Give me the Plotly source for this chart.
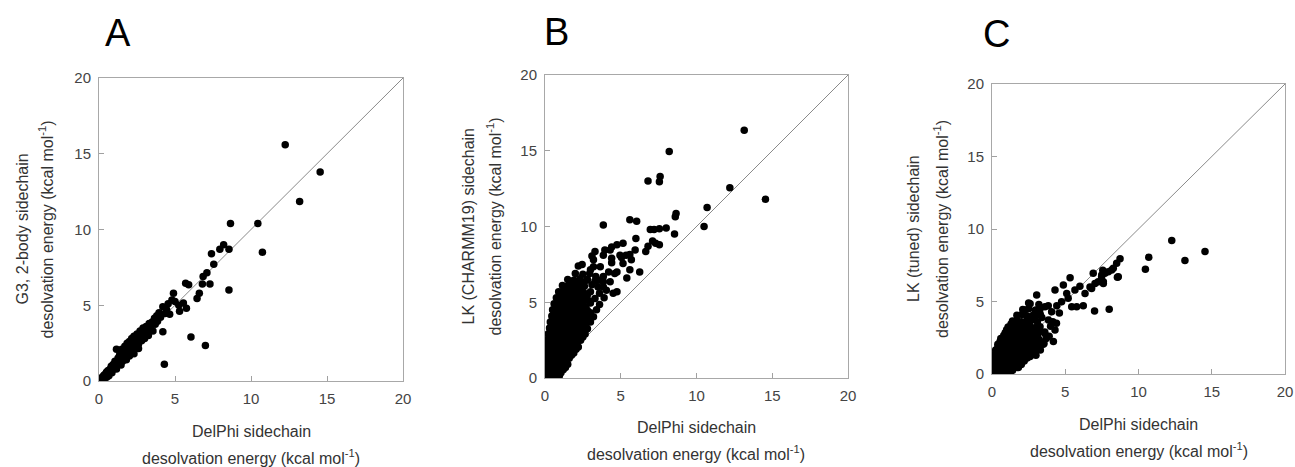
import plotly.graph_objects as go

# ---------------- data ----------------
tick_vals = [0, 5, 10, 15, 20]
tick_text = ["0", "5", "10", "15", "20"]
diag = [0, 20]

panel_letters = ["A", "B", "C"]
x_title_lines = ["DelPhi sidechain", "desolvation energy (kcal mol<sup>-1</sup>)"]
y_title_lines = [
    ["G3, 2-body sidechain", "desolvation energy (kcal mol<sup>-1</sup>)"],
    ["LK (CHARMM19) sidechain", "desolvation energy (kcal mol<sup>-1</sup>)"],
    ["LK (tuned) sidechain", "desolvation energy (kcal mol<sup>-1</sup>)"],
]

# Panel A: G3 2-body vs DelPhi
a_x = [0.05, 0.15, 0.25, 0.3, 0.4, 0.45, 0.55, 0.6, 0.7, 0.75,
       0.8, 0.9, 0.95, 1.0, 1.05, 1.1, 1.15, 1.2, 1.25, 1.3,
       1.35, 1.4, 1.5, 1.5, 1.55, 1.6, 1.7, 1.7, 1.75, 1.8,
       1.85, 1.9, 1.95, 2.0, 2.05, 2.1, 2.15, 2.2, 2.25, 2.3,
       2.3, 2.4, 2.45, 2.5, 2.55, 2.6, 2.7, 2.75, 2.8, 2.9,
       2.95, 3.0, 3.1, 3.15, 3.25, 3.3, 3.4, 3.5, 3.55, 3.65,
       3.7, 3.8, 3.85, 3.95, 4.05, 4.2, 4.2, 4.3, 4.35, 4.45,
       4.55, 4.65, 4.8, 4.9, 5.0, 5.25, 5.3, 5.55, 5.7, 5.75,
       5.9, 6.05, 6.45, 6.6, 6.85, 6.8, 7.0, 7.1, 7.3, 7.4,
       7.55, 7.95, 8.2, 8.55, 8.55, 8.65, 10.45, 10.75, 12.25, 13.2,
       14.55, 0.2, 0.5, 0.85, 1.15, 0.35, 0.65, 1.45, 1.8, 2.0,
       2.6]
a_y = [0.05, 0.1, 0.2, 0.35, 0.3, 0.5, 0.45, 0.7, 0.55, 0.8,
       0.95, 0.75, 1.1, 0.9, 1.3, 1.0, 2.1, 1.25, 1.5, 1.1,
       1.7, 1.35, 1.6, 2.1, 1.3, 1.85, 1.55, 2.3, 2.05, 1.75,
       2.5, 2.2, 1.9, 2.6, 2.35, 2.0, 2.8, 2.5, 2.2, 1.8,
       2.95, 2.65, 2.3, 3.1, 2.8, 2.45, 3.3, 3.0, 2.65, 3.5,
       3.15, 2.8, 3.6, 3.3, 3.0, 3.8, 3.5, 3.9, 3.3, 4.15,
       3.75, 4.3, 3.95, 4.5, 4.2, 4.9, 3.25, 1.1, 4.45, 4.7,
       5.1, 4.4, 5.35, 5.8, 5.25, 5.0, 4.6, 5.15, 6.45, 4.8,
       6.35, 2.9, 5.45, 5.8, 6.9, 6.4, 2.35, 7.15, 6.4, 8.4,
       7.7, 8.7, 9.0, 8.7, 6.0, 10.4, 10.4, 8.5, 15.6, 11.85,
       13.8, 0.05, 0.25, 0.55, 0.8, 0.15, 0.35, 1.05, 1.4, 1.65,
       2.15]
a_x_extra = [0.1, 0.35, 0.6, 0.85, 1.1, 1.35, 1.6, 1.85, 2.1, 2.35,
             2.6, 2.85, 3.1, 3.35, 3.6, 0.5, 0.9, 1.3, 1.7, 2.1,
             2.5, 2.9, 3.3]
a_y_extra = [0.2, 0.4, 0.6, 1.0, 1.2, 1.5, 1.7, 2.3, 2.3, 2.5,
             2.9, 3.1, 3.3, 3.6, 3.9, 0.6, 0.9, 1.5, 2.0, 2.5,
             2.7, 3.3, 3.4]

# Panel B: LK (CHARMM19) vs DelPhi
b_x = [0.05, 0.35, 0.65, 0.95,
       0.0, 0.3, 0.6, 0.9, 1.2,
       0.05, 0.35, 0.65, 0.95, 1.25, 1.5,
       0.05, 0.35, 0.65, 0.95, 1.25, 1.6,
       0.1, 0.4, 0.7, 1.0, 1.3, 1.6, 1.9,
       0.1, 0.4, 0.7, 1.0, 1.3, 1.6, 1.95, 2.2,
       0.15, 0.45, 0.75, 1.05, 1.35, 1.65, 1.95, 2.35,
       0.2, 0.5, 0.8, 1.1, 1.4, 1.7, 2.0, 2.3, 2.65,
       0.3, 0.6, 0.9, 1.2, 1.5, 1.8, 2.1, 2.4, 2.8,
       0.35, 0.65, 0.95, 1.25, 1.55, 1.85, 2.15, 2.5, 3.0,
       0.45, 0.75, 1.05, 1.35, 1.65, 1.95, 2.3, 2.7, 3.2,
       0.5, 0.8, 1.1, 1.4, 1.7, 2.0, 2.35, 2.8, 3.4,
       0.6, 0.9, 1.2, 1.5, 1.8, 2.1, 2.5, 3.0, 3.6,
       0.75, 1.05, 1.35, 1.65, 1.95, 2.3, 2.7, 3.3, 3.9,
       0.9, 1.2, 1.5, 1.8, 2.15, 2.55, 3.0, 3.6,
       1.15, 1.45, 1.8, 2.2, 2.6, 3.1, 3.5,
       1.5, 1.9, 2.3, 2.8, 3.3,
       2.0, 2.5,
       2.2, 2.45, 2.95, 3.0, 3.2, 3.1, 3.3, 3.65, 3.55, 3.85,
       3.85, 3.95, 4.05, 4.2, 4.3, 4.3, 4.4, 4.4, 4.4, 4.6,
       4.75, 4.5, 4.75, 4.75, 4.95, 5.05, 5.15, 5.15, 5.35, 5.4,
       5.6, 5.7, 5.6, 5.95, 6.0, 6.25, 6.65, 6.8, 7.1, 7.3,
       7.55, 6.95, 7.2, 7.55, 8.0, 8.55, 8.6, 8.65, 3.85, 5.6,
       6.05, 6.8, 7.55, 7.6, 8.2, 10.5, 10.7, 12.2, 13.15, 14.55,
       3.35, 3.85, 3.85, 2.75, 3.2]
b_y = [0.15, 0.2, 0.1, 0.15,
       0.5, 0.55, 0.45, 0.5, 0.55,
       0.9, 0.95, 0.85, 0.9, 0.95, 0.9,
       1.3, 1.25, 1.35, 1.3, 1.25, 1.3,
       1.7, 1.75, 1.65, 1.7, 1.75, 1.7, 1.65,
       2.1, 2.05, 2.15, 2.1, 2.05, 2.15, 2.1, 2.05,
       2.5, 2.55, 2.45, 2.5, 2.55, 2.45, 2.5, 2.5,
       2.9, 2.85, 2.95, 2.9, 2.85, 2.95, 2.9, 2.85, 2.9,
       3.3, 3.35, 3.25, 3.3, 3.35, 3.25, 3.3, 3.35, 3.25,
       3.7, 3.65, 3.75, 3.7, 3.65, 3.75, 3.7, 3.65, 3.7,
       4.1, 4.15, 4.05, 4.1, 4.15, 4.05, 4.1, 4.15, 4.05,
       4.5, 4.45, 4.55, 4.5, 4.45, 4.55, 4.5, 4.45, 4.5,
       4.9, 4.95, 4.85, 4.9, 4.95, 4.85, 4.9, 4.95, 4.85,
       5.3, 5.25, 5.35, 5.3, 5.25, 5.35, 5.3, 5.25, 5.3,
       5.7, 5.75, 5.65, 5.7, 5.75, 5.65, 5.7, 5.6,
       6.1, 6.05, 6.15, 6.1, 6.05, 6.15, 6.0,
       6.5, 6.45, 6.55, 6.5, 6.4,
       6.9, 6.85,
       7.4, 7.5, 6.9, 7.15, 7.8, 8.05, 8.35, 7.35, 6.45, 6.7,
       8.1, 8.45, 5.8, 7.0, 8.45, 6.35, 7.6, 7.9, 8.65, 6.9,
       5.7, 5.6, 7.0, 8.8, 8.1, 7.95, 8.9, 7.55, 8.1, 6.6,
       7.15, 7.8, 8.15, 8.45, 9.2, 7.0, 8.35, 8.7, 9.05, 8.9,
       8.8, 9.8, 9.8, 9.85, 9.9, 9.5, 10.65, 10.85, 10.1, 10.45,
       10.35, 13.0, 12.95, 13.3, 14.95, 10.0, 11.25, 12.55, 16.35, 11.8,
       6.7, 6.35, 6.0, 6.45, 7.35]
b_x_extra = [0.2, 0.5, 0.8, 1.05,
             0.15, 0.45, 0.75, 1.05, 1.35,
             0.2, 0.5, 0.8, 1.1, 1.4,
             0.25, 0.55, 0.85, 1.15, 1.45, 1.75,
             0.25, 0.55, 0.85, 1.15, 1.45, 1.75, 2.05,
             0.3, 0.6, 0.9, 1.2, 1.5, 1.8, 2.1,
             0.35, 0.65, 0.95, 1.25, 1.55, 1.85, 2.15, 2.5,
             0.35, 0.65, 0.95, 1.25, 1.55, 1.85, 2.2, 2.55,
             0.45, 0.75, 1.05, 1.35, 1.65, 1.95, 2.3, 2.7,
             0.5, 0.8, 1.1, 1.4, 1.7, 2.0, 2.4, 2.85,
             0.6, 0.9, 1.2, 1.5, 1.8, 2.15, 2.5, 3.0,
             0.7, 1.0, 1.3, 1.6, 1.95, 2.3, 2.7,
             0.85, 1.15, 1.45, 1.8, 2.15, 2.5, 2.9,
             1.05, 1.35, 1.65, 2.0, 2.4, 2.8,
             1.3, 1.65, 2.0, 2.4,
             1.7, 2.1, 2.5]
b_y_extra = [0.35, 0.35, 0.3, 0.35,
             0.7, 0.75, 0.7, 0.65, 0.7,
             1.1, 1.1, 1.15, 1.1, 1.05,
             1.5, 1.5, 1.55, 1.5, 1.45, 1.5,
             1.9, 1.9, 1.95, 1.9, 1.85, 1.9, 1.9,
             2.3, 2.3, 2.35, 2.3, 2.25, 2.3, 2.3,
             2.7, 2.7, 2.75, 2.7, 2.65, 2.7, 2.7, 2.7,
             3.1, 3.1, 3.15, 3.1, 3.05, 3.1, 3.1, 3.1,
             3.5, 3.5, 3.55, 3.5, 3.45, 3.5, 3.5, 3.5,
             3.9, 3.9, 3.95, 3.9, 3.85, 3.9, 3.9, 3.9,
             4.3, 4.3, 4.35, 4.3, 4.25, 4.3, 4.3, 4.3,
             4.7, 4.7, 4.75, 4.7, 4.65, 4.7, 4.7,
             5.1, 5.1, 5.15, 5.1, 5.05, 5.1, 5.1,
             5.5, 5.5, 5.55, 5.5, 5.45, 5.5,
             5.9, 5.9, 5.95, 5.9,
             6.3, 6.3, 6.3]

# Panel C: LK (tuned) vs DelPhi
c_x = [0.05, 0.35, 0.65, 0.95, 1.25,
       0.0, 0.3, 0.6, 0.9, 1.2, 1.5, 1.8,
       0.05, 0.35, 0.65, 0.95, 1.25, 1.55, 1.85, 2.2,
       0.1, 0.4, 0.7, 1.0, 1.3, 1.6, 1.9, 2.2, 2.6, 3.0,
       0.25, 0.55, 0.85, 1.15, 1.45, 1.75, 2.05, 2.4, 2.8, 3.3,
       0.4, 0.7, 1.0, 1.3, 1.6, 1.9, 2.2, 2.55, 2.95, 3.5,
       0.6, 0.9, 1.2, 1.5, 1.8, 2.1, 2.45, 2.8, 3.2, 3.7,
       0.9, 1.2, 1.5, 1.8, 2.1, 2.45, 2.8, 3.2, 3.6,
       1.1, 1.4, 1.7, 2.0, 2.35, 2.7, 3.05,
       1.4, 1.7, 2.0, 2.35, 2.7, 3.1,
       1.7, 2.05, 2.4, 2.8, 3.3,
       2.1, 2.5, 2.95,
       2.6, 3.2,
       3.05, 4.3, 4.87, 5.1, 5.2, 5.44, 5.78, 6.23, 7.0, 8.0,
       5.66, 6.0, 6.35, 6.8, 7.03, 7.48, 7.71, 8.17, 8.51, 8.74,
       8.62, 7.6, 4.3, 4.19, 4.07, 3.62, 4.75, 2.94, 3.28, 3.85,
       2.25, 5.33, 6.91, 7.25, 6.69, 4.42, 4.6, 3.84, 3.27, 10.47,
       10.7, 12.27, 13.17, 14.54, 7.94, 7.56, 8.28, 8.56, 7.49, 7.6,
       3.9, 4.0, 3.6, 3.4, 4.4, 3.0, 2.5, 3.55, 4.15, 3.1]
c_y = [0.1, 0.15, 0.05, 0.1, 0.15,
       0.45, 0.5, 0.4, 0.45, 0.5, 0.4, 0.45,
       0.85, 0.9, 0.8, 0.85, 0.9, 0.8, 0.85, 0.9,
       1.25, 1.3, 1.2, 1.25, 1.3, 1.2, 1.25, 1.3, 1.2, 1.3,
       1.65, 1.7, 1.6, 1.65, 1.7, 1.6, 1.65, 1.7, 1.6, 1.65,
       2.05, 2.1, 2.0, 2.05, 2.1, 2.0, 2.05, 2.1, 2.0, 2.05,
       2.45, 2.5, 2.4, 2.45, 2.5, 2.4, 2.45, 2.5, 2.4, 2.45,
       2.85, 2.9, 2.8, 2.85, 2.9, 2.8, 2.85, 2.9, 2.8,
       3.25, 3.3, 3.2, 3.25, 3.3, 3.2, 3.25,
       3.65, 3.7, 3.6, 3.65, 3.7, 3.6,
       4.05, 4.1, 4.0, 4.05, 4.1,
       4.45, 4.5, 4.4,
       4.85, 4.8,
       5.45, 5.8, 6.14, 5.55, 5.22, 4.64, 4.64, 4.7, 4.35, 4.46,
       5.79, 6.05, 5.56, 5.9, 6.25, 6.71, 6.94, 7.17, 7.63, 7.95,
       6.71, 6.37, 3.03, 2.25, 4.3, 4.64, 4.98, 3.95, 3.26, 3.72,
       4.41, 6.64, 6.94, 6.37, 6.0, 4.7, 4.2, 4.7, 4.44, 7.22,
       8.05, 9.2, 7.82, 8.44, 7.06, 7.15, 7.29, 6.67, 6.83, 6.25,
       2.6, 3.3, 2.9, 3.9, 3.5, 4.4, 4.9, 2.1, 3.6, 1.9]
c_x_extra = [0.2, 0.5, 0.8, 1.1, 1.4,
             0.15, 0.45, 0.75, 1.05, 1.35, 1.65, 2.0,
             0.2, 0.5, 0.8, 1.1, 1.4, 1.7, 2.05, 2.4,
             0.25, 0.55, 0.85, 1.15, 1.45, 1.75, 2.1, 2.5, 2.9,
             0.4, 0.7, 1.0, 1.3, 1.6, 1.9, 2.25, 2.65, 3.1,
             0.55, 0.85, 1.15, 1.45, 1.75, 2.05, 2.4, 2.8, 3.3,
             0.8, 1.1, 1.4, 1.7, 2.0, 2.35, 2.7, 3.1,
             1.0, 1.3, 1.6, 1.9, 2.25, 2.6, 3.0,
             1.3, 1.6, 1.9, 2.2, 2.55]
c_y_extra = [0.25, 0.3, 0.25, 0.3, 0.25,
             0.65, 0.7, 0.65, 0.7, 0.65, 0.7, 0.65,
             1.05, 1.1, 1.05, 1.1, 1.05, 1.1, 1.05, 1.1,
             1.45, 1.5, 1.45, 1.5, 1.45, 1.5, 1.45, 1.5, 1.45,
             1.85, 1.9, 1.85, 1.9, 1.85, 1.9, 1.85, 1.9, 1.85,
             2.25, 2.3, 2.25, 2.3, 2.25, 2.3, 2.25, 2.3, 2.25,
             2.65, 2.7, 2.65, 2.7, 2.65, 2.7, 2.65, 2.7,
             3.05, 3.1, 3.05, 3.1, 3.05, 3.1, 3.05,
             3.45, 3.5, 3.45, 3.5, 3.45]

panel_x = [a_x + a_x_extra, b_x + b_x_extra, c_x + c_x_extra]
panel_y = [a_y + a_y_extra, b_y + b_y_extra, c_y + c_y_extra]

# ---------------- layout (pixel geometry) ----------------
W, H = 1295, 467
plot_boxes = [  # left, right, top, bottom in px
    (99, 403, 78, 381),
    (545, 848, 75, 378),
    (992, 1285, 84, 374),
]
letter_pos = [(118, 33), (556, 32), (996, 34)]
xtitle_y = [(431, 457), (427, 453), (424, 450)]
ytitle_x = [(22, 47), (468, 494), (914, 941)]

FONT = "Liberation Sans, Arial, Helvetica, sans-serif"


def px(x):
    return x / W


def py(y):
    return 1 - y / H


fig = go.Figure()
annotations = []
layout_axes = {}

for i in range(3):
    n = "" if i == 0 else str(i + 1)
    xa, ya = "x" + n, "y" + n
    L, R, T, B = plot_boxes[i]

    fig.add_trace(go.Scatter(x=diag, y=diag, mode="lines",
                             line=dict(color="#8a8a8a", width=1),
                             xaxis=xa, yaxis=ya, showlegend=False, hoverinfo="skip"))
    fig.add_trace(go.Scatter(x=panel_x[i], y=panel_y[i], mode="markers",
                             marker=dict(color="black", size=7.5, line=dict(width=0)),
                             xaxis=xa, yaxis=ya, showlegend=False))

    common = dict(range=[0, 20], tickvals=tick_vals, ticktext=tick_text,
                  ticks="inside", ticklen=5, tickcolor="#a0a0a0", tickwidth=1,
                  showline=True, linecolor="#a8a8a8", linewidth=1, mirror=True,
                  showgrid=False, zeroline=False, fixedrange=True, automargin=False,
                  tickfont=dict(family=FONT, size=15, color="#444"))
    layout_axes["xaxis" + n] = dict(common, domain=[px(L), px(R)], anchor=ya,
                                    ticklabelstandoff=4)
    layout_axes["yaxis" + n] = dict(common, domain=[py(B), py(T)], anchor=xa,
                                    ticklabelstandoff=4)

    # panel letter
    lx, ly = letter_pos[i]
    annotations.append(dict(text=panel_letters[i], x=px(lx), y=py(ly), xref="paper", yref="paper",
                            showarrow=False, xanchor="center", yanchor="middle",
                            font=dict(family=FONT, size=38, color="black")))
    # x title lines
    cx = (L + R) / 2
    for line, yy in zip(x_title_lines, xtitle_y[i]):
        annotations.append(dict(text=line, x=px(cx), y=py(yy), xref="paper", yref="paper",
                                showarrow=False, xanchor="center", yanchor="middle",
                                font=dict(family=FONT, size=16, color="#333")))
    # y title lines
    cy = (T + B) / 2
    for line, xx in zip(y_title_lines[i], ytitle_x[i]):
        annotations.append(dict(text=line, x=px(xx), y=py(cy), xref="paper", yref="paper",
                                showarrow=False, xanchor="center", yanchor="middle", textangle=-90,
                                font=dict(family=FONT, size=16, color="#333")))

fig.update_layout(template="none", width=W, height=H, margin=dict(l=0, r=0, t=0, b=0),
                  paper_bgcolor="white", plot_bgcolor="white", hovermode=False,
                  annotations=annotations, **layout_axes)

fig.write_html("out.html", config={"displayModeBar": False, "staticPlot": True},
               post_script="document.body.style.margin='0';document.body.style.padding='0';"
                           "document.body.style.overflow='hidden';")
